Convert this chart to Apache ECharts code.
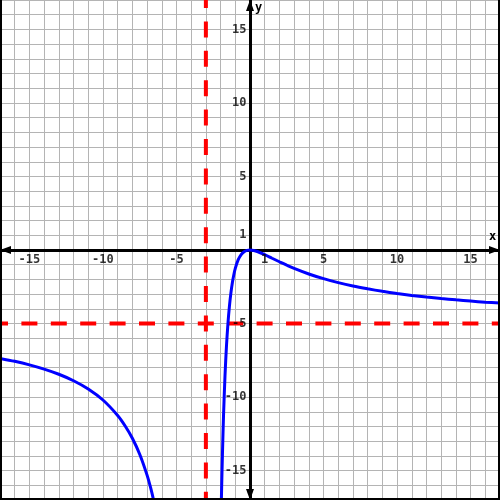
<!DOCTYPE html>
<html>
<head>
<meta charset="utf-8">
<script src="https://cdn.jsdelivr.net/npm/echarts@6/dist/echarts.min.js"></script>
<style>
html,body{margin:0;padding:0;background:#fff;}
#chart{width:500px;height:500px;}
</style>
</head>
<body>
<div id="chart"></div>
<script>
// Axis extents and labelled ticks
const xRange = [-17, 17];
const yRange = [-17, 17];
const xTickLabels = [-15, -10, -5, 1, 5, 10, 15];
const yTickLabels = [-15, -10, -5, 1, 5, 10, 15];

// Asymptotes
const verticalAsymptoteX = -3;
const horizontalAsymptoteY = -5;

// Left branch (x < -3)
const leftX = [-17, -16, -15, -14, -13, -12, -11, -10, -9, -8.5, -8, -7.5, -7, -6.75, -6.5, -6.4];
const leftY = [-7.37, -7.57, -7.81, -8.10, -8.45, -8.89, -9.45, -10.2, -11.25, -11.95, -12.8, -13.89, -15.31, -16.2, -17.25, -17.7];

// Right branch (x > -3)
const rightX = [-1.96, -1.9, -1.85, -1.8, -1.7, -1.6, -1.5, -1.4, -1.3, -1.2, -1.1, -1, -0.8, -0.6, -0.4, -0.2, 0, 0.25, 0.5, 1, 1.5, 2, 2.5, 3, 4, 5, 6, 7, 8, 9, 10, 11, 12, 13, 14, 15, 16, 17];
const rightY = [-17.6, -14.92, -13.0, -11.25, -8.55, -6.53, -5.0, -3.83, -2.93, -2.22, -1.68, -1.25, -0.66, -0.31, -0.12, -0.026, 0, -0.03, -0.10, -0.31, -0.56, -0.8, -1.03, -1.25, -1.63, -1.95, -2.22, -2.45, -2.64, -2.81, -2.96, -3.09, -3.2, -3.3, -3.39, -3.47, -3.55, -3.61];

const leftData = leftX.map((x, i) => [x, leftY[i]]);
const rightData = rightX.map((x, i) => [x, rightY[i]]);

const fontFamily = 'DejaVu Sans Mono';

const chart = echarts.init(document.getElementById('chart'), null, {renderer: 'canvas'});

function axisCfg(range) {
  return {
    type: 'value',
    min: range[0], max: range[1], interval: 1,
    axisLine: {
      show: true, onZero: true,
      lineStyle: {color: '#000', width: 3},
      symbol: ['triangle', 'triangle'],
      symbolSize: [8, 11],
      symbolOffset: [5.5, -5.5]
    },
    axisTick: {show: false},
    axisLabel: {show: false},
    splitLine: {show: true, lineStyle: {color: '#b4b4b4', width: 1}}
  };
}

const labelStyle = {
  show: true, color: '#000', fontFamily: fontFamily, fontWeight: 'bold', fontSize: 12
};

const option = {
  animation: false,
  backgroundColor: '#fff',
  grid: {left: 0, right: 0, top: 0, bottom: 0, containLabel: false, outerBoundsMode: 'none'},
  xAxis: axisCfg(xRange),
  yAxis: axisCfg(yRange),
  series: [
    {
      type: 'line', data: [[xRange[0], horizontalAsymptoteY], [xRange[1], horizontalAsymptoteY]],
      symbol: 'none', silent: true, z: 3,
      lineStyle: {color: '#ff0000', width: 4, type: [16, 13.4], dashOffset: 8}
    },
    {
      type: 'line', data: [[verticalAsymptoteX, yRange[1]], [verticalAsymptoteX, yRange[0]]],
      symbol: 'none', silent: true, z: 3,
      lineStyle: {color: '#ff0000', width: 4, type: [16, 13.4], dashOffset: 8}
    },
    {
      type: 'line', data: leftData, symbol: 'none', smooth: 0.3, clip: true, z: 4,
      lineStyle: {color: '#0000ff', width: 3}
    },
    {
      type: 'line', data: rightData, symbol: 'none', smooth: 0.3, clip: true, z: 4,
      lineStyle: {color: '#0000ff', width: 3}
    },
    {
      // x tick labels, placed at (value, 0) through the scales
      type: 'scatter', silent: true, z: 6,
      data: xTickLabels.map(v => [v, 0]),
      symbol: 'circle', symbolSize: 1,
      itemStyle: {color: 'rgba(0,0,0,0)'},
      label: Object.assign({position: 'bottom', distance: 3, formatter: p => String(p.value[0])}, labelStyle)
    },
    {
      // y tick labels, placed at (0, value) through the scales
      type: 'scatter', silent: true, z: 6,
      data: yTickLabels.map(v => [0, v]),
      symbol: 'circle', symbolSize: 1,
      itemStyle: {color: 'rgba(0,0,0,0)'},
      label: Object.assign({position: 'left', distance: 3, formatter: p => String(p.value[1])}, labelStyle)
    }
  ],
  graphic: [
    {type: 'rect', left: 0, top: 0, shape: {width: 2, height: 500}, style: {fill: '#000'}, z: 10},
    {type: 'rect', right: 0, top: 0, shape: {width: 2, height: 500}, style: {fill: '#000'}, z: 10},
    {type: 'rect', left: 0, bottom: 0, shape: {width: 500, height: 2}, style: {fill: '#000'}, z: 10},
    {type: 'text', left: 489, top: 231, style: {text: 'x', fill: '#000', font: 'bold 12px "DejaVu Sans Mono"'}, z: 10},
    {type: 'text', left: 255, top: 2, style: {text: 'y', fill: '#000', font: 'bold 12px "DejaVu Sans Mono"'}, z: 10}
  ]
};

chart.setOption(option);
</script>
</body>
</html>
